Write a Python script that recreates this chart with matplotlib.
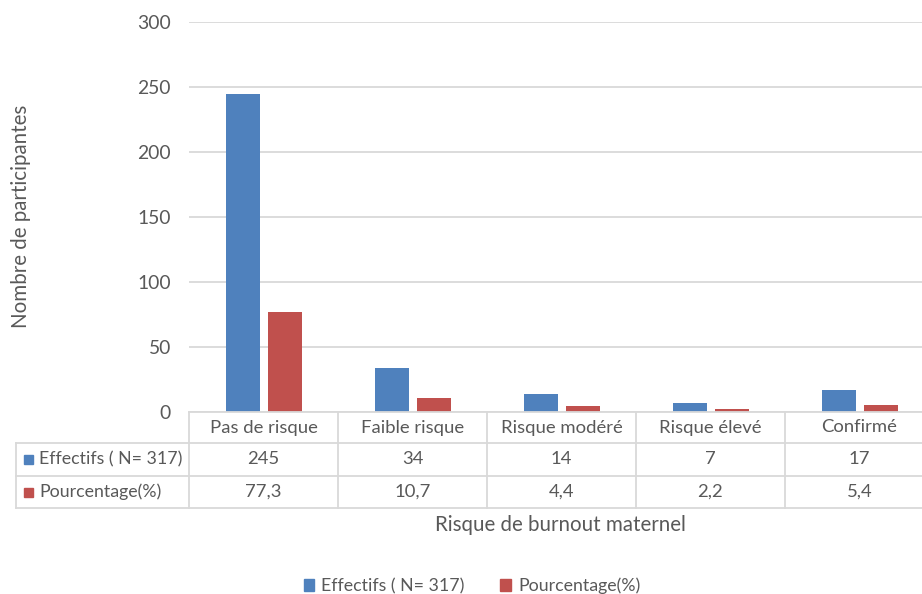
import numpy as np
import matplotlib.pyplot as plt
from matplotlib.patches import Patch

categories = ["Pas de risque", "Faible risque", "Risque modéré", "Risque élevé", "Confirmé"]
effectifs = [245, 34, 14, 7, 17]
pourcentage = [77.3, 10.7, 4.4, 2.2, 5.4]
series_labels = ["Effectifs ( N= 317)", "Pourcentage(%)"]
yticks = [0, 50, 100, 150, 200, 250, 300]

BLUE = "#4f81bd"
RED = "#c0504d"
TXT = "#595959"
LINE = "#d9d9d9"

plt.rcParams["font.family"] = ["Lato", "DejaVu Sans"]

W, H = 922, 594
fig = plt.figure(figsize=(W / 100, H / 100), dpi=100)


def fx(px):
    return px / W


def fy(py):
    return 1 - py / H


# axes: x from 189 px, each column 149 px wide (last column cropped by the image edge)
col_w = 149
x0, x1 = 189, 189 + col_w * 5
y_top, y_zero = 22, 412
ax = fig.add_axes([fx(x0), fy(y_zero), fx(x1 - x0), (y_zero - y_top) / H])

x = np.arange(len(categories))
off = 21 / col_w
bw = 34 / col_w
ax.bar(x - off, effectifs, bw, color=BLUE, zorder=3)
ax.bar(x + off, pourcentage, bw, color=RED, zorder=3)

ax.set_xlim(-0.5, len(categories) - 0.5)
ax.set_ylim(0, 300)
ax.set_yticks(yticks)
ax.yaxis.grid(True, color=LINE, linewidth=1.3)
ax.set_axisbelow(True)
for s in ax.spines.values():
    s.set_visible(False)
ax.set_xticks([])
ax.tick_params(axis="y", length=0, pad=13, labelsize=13.9, labelcolor=TXT)
fig.text(fx(21), fy(216), "Nombre de participantes", rotation=90, ha="center", va="center",
         fontsize=14.8, color=TXT)

# data table below the axes
rows_y = [412, 443, 476, 508]
lw = 1.3
fig.add_artist(plt.Line2D([fx(x0), fx(x1)], [fy(412)] * 2, color=LINE, lw=lw))
for yy in rows_y[1:]:
    fig.add_artist(plt.Line2D([fx(16), fx(x1)], [fy(yy)] * 2, color=LINE, lw=lw))
fig.add_artist(plt.Line2D([fx(16)] * 2, [fy(443), fy(508)], color=LINE, lw=lw))
for i in range(len(categories) + 1):
    xx = x0 + i * col_w
    fig.add_artist(plt.Line2D([fx(xx)] * 2, [fy(412), fy(508)], color=LINE, lw=lw))

for i, cat in enumerate(categories):
    cx = x0 + (i + 0.5) * col_w
    fig.text(fx(cx), fy(427.5), cat, ha="center", va="center", fontsize=13.3, color=TXT)
    fig.text(fx(cx), fy(459.5), str(effectifs[i]), ha="center", va="center", fontsize=13.3,
             color=TXT)
    fig.text(fx(cx), fy(492), f"{pourcentage[i]:.1f}".replace(".", ","), ha="center",
             va="center", fontsize=13.3, color=TXT)

for lab, col, yy in [(series_labels[0], BLUE, 459.5), (series_labels[1], RED, 492)]:
    fig.patches.append(plt.Rectangle((fx(24), fy(yy + 4.5)), fx(9), 9 / H, color=col,
                                     transform=fig.transFigure, figure=fig))
    fig.text(fx(39), fy(yy), lab, ha="left", va="center", fontsize=12.8, color=TXT)

fig.text(fx(560), fy(525), "Risque de burnout maternel", ha="center", va="center",
         fontsize=14.8, color=TXT)

handles = [Patch(color=BLUE), Patch(color=RED)]
fig.legend(handles, series_labels, loc="center", bbox_to_anchor=(fx(472), fy(586)), ncol=2,
           frameon=False, fontsize=12.8, labelcolor=TXT, handlelength=0.6, handleheight=0.6,
           handletextpad=0.4, columnspacing=2.0)

fig.savefig("out.png", dpi=100)
